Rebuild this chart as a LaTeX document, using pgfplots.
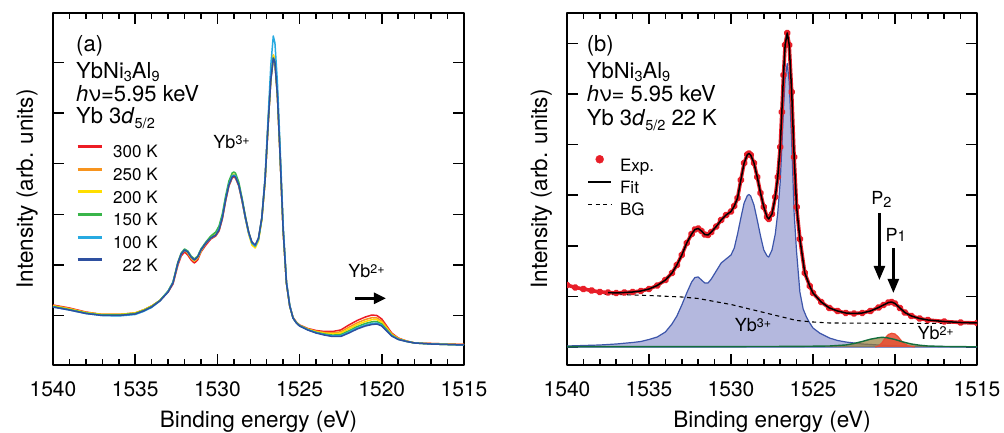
\documentclass[border=0pt]{standalone}
\usepackage{fontspec}
\setmainfont{TeX Gyre Heros}
\usepackage{pgfplots}
\pgfplotsset{compat=1.18}
\usepackage{pgfplotstable}
\usetikzlibrary{arrows.meta}

\definecolor{c300}{RGB}{237,28,36}
\definecolor{c250}{RGB}{247,148,30}
\definecolor{c200}{RGB}{255,222,0}
\definecolor{c150}{RGB}{57,181,74}
\definecolor{c100}{RGB}{39,170,225}
\definecolor{c22}{RGB}{46,80,160}
\definecolor{lav}{RGB}{180,184,222}
\definecolor{bline}{RGB}{60,85,170}
\definecolor{expred}{RGB}{232,30,40}
\definecolor{dgreen}{RGB}{20,110,60}
\definecolor{ptwo}{RGB}{150,125,55}
\definecolor{pone}{RGB}{235,75,50}

\newcommand{\fa}{\fontsize{22}{22}\selectfont}
\newcommand{\fb}{\fontsize{18}{18}\selectfont}
\newcommand{\fl}{\fontsize{17}{17}\selectfont}
\newcommand{\sub}[1]{\raisebox{-2.6pt}{\fontsize{14.5}{14.5}\selectfont #1}}
\newcommand{\subd}[1]{\raisebox{-5pt}{\fontsize{14.5}{14.5}\selectfont #1}}
\newcommand{\sups}[1]{\raisebox{4pt}{\fontsize{12.5}{12.5}\selectfont #1}}

% Panel (a): x = binding energy, columns = intensity for each temperature
\pgfplotstableread{
x t300 t250 t200 t150 t100 t22
1540 60 59.5 59 58.5 58 58
1539 57 56.5 56 55.5 55 55
1538 53 52.5 52.5 52 51.5 51.5
1537 50.5 50.5 50.5 50 49.5 49.5
1536 50.5 50.5 50.5 50 49 49.5
1535 52 52 52 51.5 50.5 51
1534.5 55 55 55 54.5 53.5 54
1534 59 59 59 58.5 57.5 58
1533.5 64.5 64.5 64.5 64.5 64 64
1533 73 73.5 73.5 74 73.5 73
1532.7 81 82.5 82.5 83 82.5 82
1532.4 100 102 102 103 102 102
1532.2 109 111 111 112 111 111
1532 113 115 115 116 115 115
1531.8 110 112 112 114 113 113
1531.6 105 107 107 109 108 108
1531.4 102 104 104 106 105 105
1531.2 105 107 107 109 108 108
1531 113 114 114 116 115 115
1530.7 120 122 122 123 122 122
1530.4 126 127 128 129 127 127
1530.1 129 130 132 133 130 130
1529.9 134 135 137 139 136 135
1529.7 146 147 149 151 148 147
1529.5 164 165 167 169 166 165
1529.3 179 180 182 184 181 180
1529.1 187 188 190 192 189 188
1529 188 189 191 193 190 189
1528.9 187 188 190 192 189 188
1528.7 179 180 181 183 180 180
1528.5 164 165 165 167 165 165
1528.3 147 148 147 149 147 148
1528.1 132 133 131 133 132 133
1527.9 122 122 120 122 122 123
1527.7 119 119 117 119 119 120
1527.5 126 126 124 126 126 127
1527.3 146 146 145 146 147 147
1527.1 184 185 184 185 188 185
1526.9 244 246 246 245 252 245
1526.75 285 288 288 286 300 285
1526.6 306 310 310 307 329 307
1526.5 302 305 305 303 322 303
1526.35 269 271 271 270 283 270
1526.2 214 216 216 215 224 215
1526 134 135 135 135 140 135
1525.8 82 82 82 82 84 82
1525.6 59 59 59 59 60 59
1525.4 47.5 47.5 47 47 47 47
1525.2 43 42.5 42.5 42.5 42 42
1525 40 39.5 39.5 39.5 39 39
1524.5 36.5 36.1 35.8 35.4 35.2 35
1524 34.5 33.8 33.3 32.7 32.3 32
1523.5 33.5 32.5 31.8 31 30.4 30
1523 33.5 32.1 31 29.9 29 28.5
1522.5 35 33.2 31.8 30.3 29.2 28.5
1522 40 37.8 36 34.2 32.8 32
1521.5 44.5 42.1 40.3 38.4 36.9 36
1521 48 45.5 43.5 41.5 39.9 39
1520.6 50 47.3 45.3 43.2 41.5 40.5
1520.3 49.5 47.1 45.3 43.4 41.9 41
1520 46 44 42.5 41 39.7 39
1519.7 39 37.6 36.5 35.4 34.5 34
1519.4 32 31.2 30.5 29.8 29.3 29
1519 27 26.6 26.3 25.9 25.7 25.5
1518.5 24 23.9 23.8 23.6 23.6 23.5
1518 22 22 22 22 22 22
1517 21.5 21.5 21 21 21 21
1516 21 21 20.5 20.5 20.5 20.5
1515 20.5 20.5 20 20 20 20
}\lefttab

% Panel (b): experiment / fit at 22 K
\pgfplotstableread{
x y
1540 62
1539.5 59.5
1539 58
1538.5 56.5
1538 55
1537.5 54.5
1537 54
1536.5 54.5
1536 55
1535.5 56
1535 58
1534.5 61.5
1534 67
1533.6 74
1533.3 82
1533 92
1532.7 104
1532.4 113
1532.2 117.5
1532 118.5
1531.8 116
1531.6 112.5
1531.4 112
1531.2 115
1530.9 120.5
1530.6 127
1530.3 132
1530 135.5
1529.8 141
1529.6 149
1529.4 167
1529.2 184
1529 192.5
1528.9 193.5
1528.8 192
1528.6 184
1528.4 170
1528.2 154
1528 140
1527.8 130
1527.7 128
1527.5 133
1527.3 150
1527.15 170
1527 200
1526.9 235
1526.8 272
1526.7 302
1526.57 314
1526.45 302
1526.3 255
1526.15 190
1526 140
1525.8 108
1525.5 74
1525.2 61
1525 54
1524.5 45
1524 39
1523.5 36
1523 34
1522.5 33.5
1522 34
1521.5 36
1521 39.5
1520.7 42
1520.4 44.5
1520.2 45
1520 43.5
1519.7 39
1519.4 34.5
1519 31
1518.5 28.5
1518 27
1517 25.5
1516 24.5
1515 24
}\exptab

\pgfplotstableread{
x y
1540 1
1539 1.5
1538 2
1537 3
1536 4.5
1535.5 5.5
1535 7.5
1534.5 10
1534 15
1533.6 23
1533.3 31
1533 42
1532.7 54
1532.4 65
1532.2 69.5
1532 70
1531.8 67
1531.6 64
1531.4 64
1531.2 68
1530.9 76
1530.6 84
1530.3 88
1530 92
1529.8 99
1529.6 113
1529.4 129
1529.2 144
1529 151.5
1528.9 152.5
1528.8 151
1528.6 142
1528.4 127
1528.2 111
1528 97
1527.8 91
1527.7 90
1527.5 97
1527.3 113
1527.15 134
1527 165
1526.9 200
1526.8 238
1526.7 268
1526.57 283.5
1526.45 265
1526.3 205
1526.15 134
1526 95
1525.8 55
1525.6 38
1525.4 30
1525.2 24
1525 19
1524.6 14
1524 9
1523.5 6.5
1523 5
1522 3
1521 2
1520 1.2
1519 0.8
1518 0.5
1516 0.3
1515 0.2
}\ybthree

\pgfplotstableread{
x y
1537.7 52.7
1536.3 52.2
1535 51.5
1533 50
1532 48.5
1531.5 47
1530 42.5
1529 38.5
1528 34.5
1527 30.5
1526 26.5
1525 25
1524 24
1520 23.7
1515 23.5
}\bgtab

\pgfplotstableread{
x y
1540 0.3
1530 0.4
1526 0.6
1524 1
1523 2
1522.5 3.5
1522 5.5
1521.5 7.8
1521 9.3
1520.8 9.7
1520.5 9.3
1520 7.5
1519.5 5
1519 3
1518.5 1.8
1518 1
1517 0.5
1515 0.2
}\ptwotab

\pgfplotstableread{
x y
1521.2 0
1521 1
1520.8 4
1520.6 9
1520.4 12.5
1520.2 13.7
1520 13
1519.8 10
1519.6 6
1519.4 3
1519.2 1.2
1519 0.5
1518.8 0
}\ponetab

\pgfplotsset{
  myaxis/.style={
    scale only axis, height=352pt,
    anchor=south west,
    x dir=reverse, xmin=1515, xmax=1540,
    xtick={1515,1520,...,1540}, minor x tick num=4,
    yticklabels={},
    tick align=inside,
    major tick length=11pt, minor tick length=6pt,
    tick style={black, line width=1.5pt},
    axis line style={line width=1.6pt},
    /pgf/number format/assume math mode=true,
    /pgf/number format/1000 sep={},
    xticklabel style={font=\fontsize{21}{21}\selectfont, anchor=base, yshift=-31.7pt},
    xlabel={Binding energy (eV)},
    xlabel style={font=\fontsize{22.5}{22.5}\selectfont, at={(axis description cs:0.5,-0.177)}, anchor=base},
    ylabel={Intensity (arb. units)},
    ylabel style={font=\fontsize{22.5}{22.5}\selectfont, at={(axis description cs:-0.0487,0.5)}, anchor=base},
    line join=round,
    clip marker paths=true,
  }
}

\begin{document}
\begin{tikzpicture}
\useasboundingbox (0,0) rectangle (1004pt,433pt);

% ---------------- panel (a)
\begin{axis}[myaxis, at={(53pt,68pt)}, width=411pt,
  ymin=0, ymax=352, ytick={49.5,100.1,150.7,201.3,251.9,302.5},
  legend cell align=right,
  legend image code/.code={\draw[#1, line width=3pt] (0pt,5.5pt) -- (24pt,5.5pt);},
  legend style={at={(axis description cs:0.056,0.626)}, anchor=north west,
    draw=none, fill=none, inner sep=0pt, row sep=9.7pt,
    nodes={inner sep=0pt, text height=12pt, text depth=0pt},
    /tikz/every odd column/.append style={column sep=10pt}},
]
\addplot[c300, line width=1.5pt] table[x=x, y=t300] {\lefttab};
\addlegendentry{\fl 300 K}
\addplot[c250, line width=1.5pt] table[x=x, y=t250] {\lefttab};
\addlegendentry{\fl 250 K}
\addplot[c200, line width=1.5pt] table[x=x, y=t200] {\lefttab};
\addlegendentry{\fl 200 K}
\addplot[c150, line width=1.5pt] table[x=x, y=t150] {\lefttab};
\addlegendentry{\fl 150 K}
\addplot[c100, line width=1.5pt] table[x=x, y=t100] {\lefttab};
\addlegendentry{\fl 100 K}
\addplot[c22, line width=1.5pt] table[x=x, y=t22] {\lefttab};
\addlegendentry{\fl 22 K}

\node[anchor=base west, inner sep=0pt, font=\fa] at (axis cs:1538.6,313.5) {(a)};
\node[anchor=base west, inner sep=0pt, font=\fa] at (axis cs:1538.6,286) {YbNi\sub{3}Al\sub{9}};
\node[anchor=base west, inner sep=0pt, font=\fa] at (axis cs:1538.6,263.3) {\textit{h}ν=5.95 keV};
\node[anchor=base west, inner sep=0pt, font=\fa] at (axis cs:1538.6,241) {Yb 3\textit{d}\subd{5/2}};
\node[anchor=base west, inner sep=0pt, font=\fb] at (axis cs:1530.25,216) {Yb\sups{3+}};
\node[anchor=base west, inner sep=0pt, font=\fb] at (axis cs:1522.04,87.7) {Yb\sups{2+}};
\draw[-{Triangle[length=12pt,width=11pt]}, line width=2.5pt] (axis cs:1521.63,66.7) -- (axis cs:1519.75,66.7);
\end{axis}

% ---------------- panel (b)
\begin{axis}[myaxis, at={(567pt,68pt)}, width=410pt,
  ymin=-18, ymax=334, ytick={0,50.6,101.2,151.8,202.4,253,303.6},
  legend cell align=left,
  legend style={at={(axis description cs:0.049,0.597)}, anchor=north west,
    draw=none, fill=none, inner sep=0pt, row sep=10pt,
    nodes={inner sep=0pt, text height=12pt, text depth=0pt},
    /tikz/every odd column/.append style={column sep=8pt}},
]
\addplot[draw=bline, line width=1.2pt, fill=lav, forget plot] table {\ybthree} \closedcycle;
\addplot[draw=none, fill=ptwo, fill opacity=0.7, forget plot] table {\ptwotab} \closedcycle;
\addplot[draw=none, fill=pone, fill opacity=0.85, forget plot] table {\ponetab} \closedcycle;
\addplot[pone, line width=1.2pt, forget plot] table {\ponetab};
\addplot[dgreen, line width=1.4pt, forget plot] table {\ptwotab};
\addplot[black, line width=1.1pt, dash pattern=on 4pt off 3.5pt, forget plot] table {\bgtab};
\addplot[expred, line width=3.6pt, mark=*, mark size=1.9pt, mark options={solid}, forget plot] table {\exptab};
\addplot[black, line width=1.5pt, restrict x to domain=1515:1537.6, forget plot] table {\exptab};

\addlegendimage{legend image code/.code={\fill[expred] (11.5pt,6pt) circle (4pt);}}
\addlegendentry{\fl Exp.}
\addlegendimage{legend image code/.code={\draw[black, line width=1.8pt] (0pt,5.5pt) -- (23pt,5.5pt);}}
\addlegendentry{\fl Fit}
\addlegendimage{legend image code/.code={\draw[black, line width=1.3pt, dash pattern=on 4pt off 3.5pt] (0pt,5.5pt) -- (23pt,5.5pt);}}
\addlegendentry{\fl BG}

\node[anchor=base west, inner sep=0pt, font=\fa] at (axis cs:1538.8,295.5) {(b)};
\node[anchor=base west, inner sep=0pt, font=\fa] at (axis cs:1538.8,268) {YbNi\sub{3}Al\sub{9}};
\node[anchor=base west, inner sep=0pt, font=\fa] at (axis cs:1538.8,245.3) {\textit{h}ν= 5.95 keV};
\node[anchor=base west, inner sep=0pt, font=\fa] at (axis cs:1538.8,221) {Yb 3\textit{d}\subd{5/2} 22 K};
\node[anchor=base west, inner sep=0pt, font=\fb] at (axis cs:1529.78,15) {Yb\sups{3+}};
\node[anchor=base west, inner sep=0pt, font=\fb] at (axis cs:1518.64,7) {Yb\sups{2+}};
\node[anchor=base west, inner sep=0pt, font=\fb] at (axis cs:1521.45,142) {P\sub{2}};
\node[anchor=base west, inner sep=0pt, font=\fb] at (axis cs:1520.58,105.3) {P{\fontsize{15}{15}\selectfont 1}};
\draw[-{Triangle[length=14pt,width=11pt]}, line width=2.5pt] (axis cs:1520.95,134) -- (axis cs:1520.95,67);
\draw[-{Triangle[length=14pt,width=11pt]}, line width=2.5pt] (axis cs:1520.1,99) -- (axis cs:1520.1,54);
\end{axis}
\end{tikzpicture}
\end{document}
